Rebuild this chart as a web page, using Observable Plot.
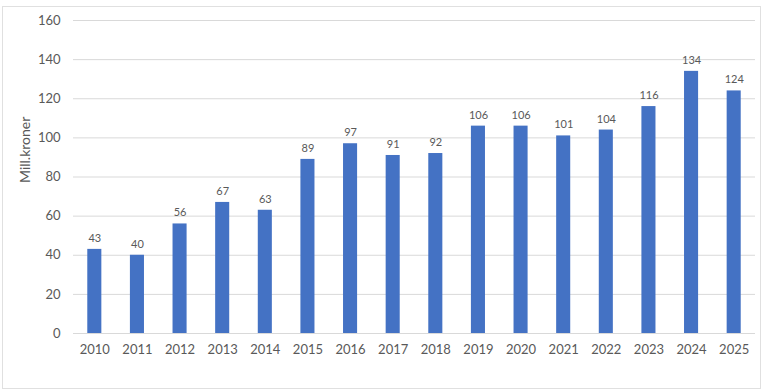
<!DOCTYPE html>
<html>
<head>
<meta charset="utf-8">
<script src="https://cdn.jsdelivr.net/npm/d3@7"></script>
<script src="https://cdn.jsdelivr.net/npm/@observablehq/plot@0.6"></script>
<style>
  html, body { margin: 0; padding: 0; background: #fff; }
  #wrap { position: relative; width: 768px; height: 391px; }
  #frame { position: absolute; left: 2px; top: 6px; width: 757px; height: 381px; border: 1px solid #e0e0e0; pointer-events: none; }
  svg { display: block; }
</style>
</head>
<body>
<div id="wrap"><div id="frame"></div></div>
<script>
const years = ["2010","2011","2012","2013","2014","2015","2016","2017","2018","2019","2020","2021","2022","2023","2024","2025"];
const values = [43, 40, 56, 67, 63, 89, 97, 91, 92, 106, 106, 101, 104, 116, 134, 124];
const yTicks = [0, 20, 40, 60, 80, 100, 120, 140, 160];
const yLabel = "Mill.kroner";

const data = years.map((y, i) => ({year: y, value: values[i]}));

const chart = Plot.plot({
  width: 768,
  height: 391,
  marginTop: 20,
  marginBottom: 58,
  marginLeft: 73,
  marginRight: 13,
  style: {fontFamily: "Lato, 'Open Sans', sans-serif", fontSize: "13px", color: "#595959", background: "transparent"},
  x: {domain: years, paddingInner: 0.67, paddingOuter: 0.335, round: false, label: null, tickSize: 0, tickPadding: 11},
  y: {domain: [0, 160], ticks: yTicks, label: null, tickSize: 0, tickPadding: 13},
  marks: [
    Plot.ruleY(yTicks, {stroke: "#d9d9d9", strokeWidth: 1}),
    Plot.barY(data, {x: "year", y: "value", fill: "#4472C4"}),
    Plot.text(data, {x: "year", y: "value", text: d => String(d.value), dy: -11, fill: "#595959", fontSize: 11}),
    Plot.axisX({tickSize: 0, tickPadding: 11, fontSize: 13}),
    Plot.axisY({ticks: yTicks, tickSize: 0, tickPadding: 13, fontSize: 13, label: null}),
    Plot.text([yLabel], {frameAnchor: "left", dx: -48, dy: 6, rotate: -90, fontSize: 14, fill: "#595959"})
  ]
});
document.getElementById("wrap").prepend(chart);
</script>
</body>
</html>
